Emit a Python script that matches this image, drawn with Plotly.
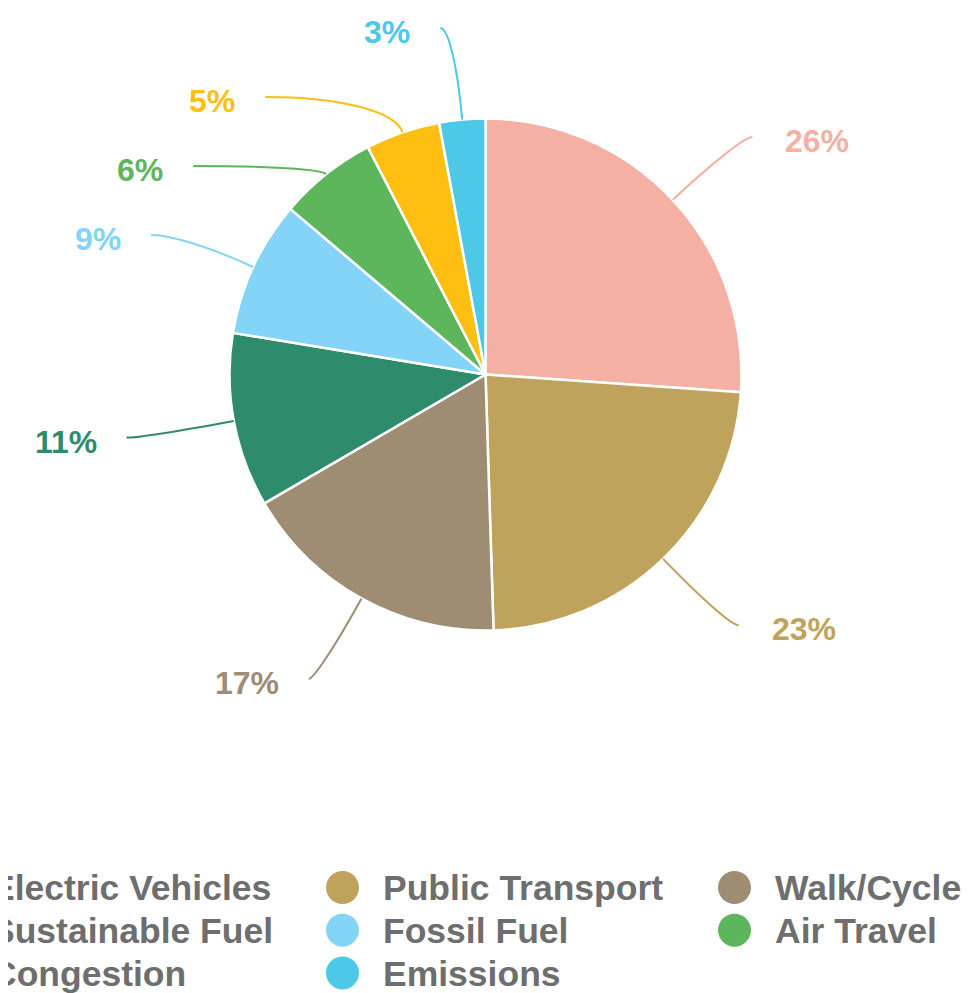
import math
import plotly.graph_objects as go

# ---------------- data (shares; labels show rounded %) ----------------
categories = ["Electric Vehicles", "Public Transport", "Walk/Cycle", "Sustainable Fuel",
              "Fossil Fuel", "Air Travel", "Congestion", "Emissions"]
values = [26.1, 23.4, 17.1, 11.0, 8.6, 6.2, 4.7, 2.9]
colors = ["#F4B0A3", "#BFA25B", "#9E8C73", "#2E8C6D",
          "#84D4F8", "#5DB55C", "#FFBE12", "#4DC8E6"]

# ---------------- geometry / style (page pixels) ----------------
OFF = 8                                # default body margin of the page
W, H = 977 - OFF, 993 - OFF            # figure size
CX, CY, R = 485.5, 374.5, 256          # pie centre & radius
LRX, LRY = 365, 348                    # ellipse of label anchors
GAP = 69                               # min vertical gap between labels
TOP = 28                               # topmost label anchor
MIN_DX = 22                            # min horizontal run of a connector
LABEL_FONT = 32
LEG_FONT = 35.5
LEG_X0, LEG_DX = -49.5, 392            # legend columns (marker centre)
LEG_Y0, LEG_DY = 887.5, 42.7           # legend rows
LEG_TXT_OFF = 40.5
TEXT_GRAY = "#6E6E6E"
FONT = "Liberation Sans, Arial, sans-serif"

total = float(sum(values))

fig = go.Figure()

fig.add_trace(go.Pie(
    labels=categories, values=values, sort=False, direction="clockwise", rotation=0,
    marker=dict(colors=colors, line=dict(color="white", width=2.5)),
    textinfo="none", hoverinfo="label+percent", showlegend=False,
    domain=dict(x=[(CX - R - OFF) / W, (CX + R - OFF) / W],
                y=[1 - (CY + R - OFF) / H, 1 - (CY - R - OFF) / H]),
))

# ---------------- label positions (computed from slice angles) ----------------
cum = 0.0
items = []
for i, v in enumerate(values):
    th = 2 * math.pi * (cum + v / 2) / total
    cum += v
    ux, uy = math.sin(th), -math.cos(th)
    items.append(dict(i=i, ux=ux, uy=uy,
                      px=CX + R * ux, py=CY + R * uy,
                      nx=CX + LRX * ux, ny=CY + LRY * uy,
                      right=ux > 0))

for side in (True, False):
    grp = sorted([it for it in items if it["right"] == side], key=lambda d: d["ny"])
    prev = None
    for it in grp:
        y = max(it["ny"], TOP) if prev is None else max(it["ny"], prev + GAP)
        if abs(y - it["ny"]) > 0.5:
            q = max(1 - ((y - CY) / LRY) ** 2, 0)
            dx = LRX * math.sqrt(q)
            ax = CX + dx if side else CX - dx
        else:
            ax = it["nx"]
        if side:
            ax = max(ax, it["px"] + MIN_DX)
        else:
            ax = min(ax, it["px"] - MIN_DX)
        it["ax"], it["ay"] = ax, y
        prev = y

shapes = []
annotations = []
for it in items:
    i = it["i"]
    p0x, p0y = it["px"], it["py"]
    p3x, p3y = it["ax"], it["ay"]
    ux, uy = it["ux"], it["uy"]
    t = (p3y - p0y) / uy if abs(uy) > 1e-6 else 10
    sgn = 1 if it["right"] else -1
    tmax = (sgn * (p3x - p0x) - 5) / max(abs(ux), 1e-6)
    t = max(8, min(t, tmax))
    bx, by = p0x + ux * t, p3y
    p1x, p1y = p0x + ux * 0.6 * t, p0y + uy * 0.6 * t
    p2x, p2y = bx + 0.4 * (p3x - bx), by
    path = f"M {p0x:.1f},{p0y:.1f} C {p1x:.1f},{p1y:.1f} {p2x:.1f},{p2y:.1f} {p3x:.1f},{p3y:.1f}"
    shapes.append(dict(type="path", xref="x", yref="y", path=path,
                       line=dict(color=colors[i], width=2)))
    annotations.append(dict(
        x=p3x + (31 if it["right"] else -28), y=p3y + 4, xref="x", yref="y",
        text=f"{round(values[i] / total * 100)}%", showarrow=False,
        xanchor="left" if it["right"] else "right", yanchor="middle",
        font=dict(family=FONT, size=LABEL_FONT, color=colors[i], weight="bold"),
    ))

# ---------------- legend (three columns of circles + labels) ----------------
lx = [LEG_X0 + (k % 3) * LEG_DX for k in range(len(categories))]
ly = [LEG_Y0 + (k // 3) * LEG_DY for k in range(len(categories))]
fig.add_trace(go.Scatter(
    x=lx, y=ly, mode="markers", showlegend=False, hoverinfo="skip",
    marker=dict(size=33, color=colors, line=dict(width=0)),
))
fig.add_trace(go.Scatter(
    x=[x + LEG_TXT_OFF for x in lx], y=[y + 0.108 * LEG_FONT for y in ly],
    mode="text", text=categories, textposition="middle right", showlegend=False,
    hoverinfo="skip",
    textfont=dict(family=FONT, size=LEG_FONT, color=TEXT_GRAY, weight="bold"),
))

fig.update_layout(
    width=W, height=H, margin=dict(l=0, r=0, t=0, b=0),
    paper_bgcolor="white", plot_bgcolor="white",
    xaxis=dict(range=[OFF, OFF + W], visible=False, fixedrange=True, domain=[0, 1]),
    yaxis=dict(range=[OFF + H, OFF], visible=False, fixedrange=True, domain=[0, 1]),
    shapes=shapes, annotations=annotations, showlegend=False,
)

fig.write_html("out.html")
